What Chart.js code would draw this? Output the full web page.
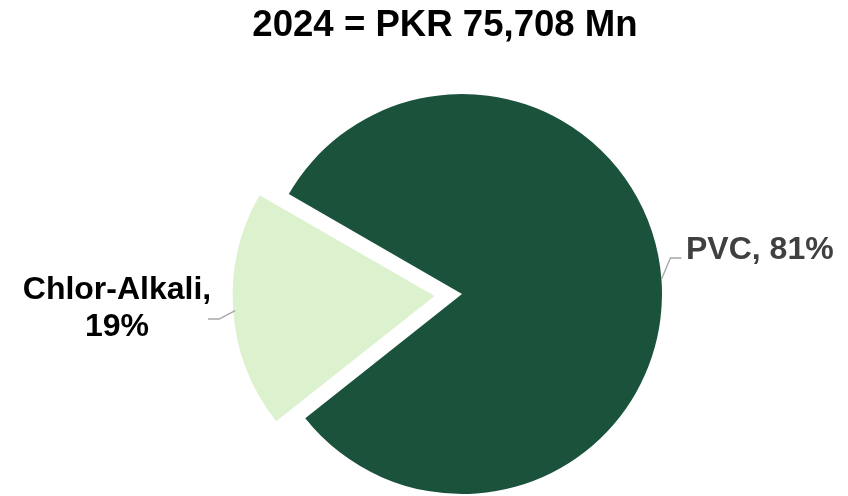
<!DOCTYPE html>
<html>
<head>
<meta charset="utf-8">
<script src="https://cdn.jsdelivr.net/npm/chart.js@4.4.1/dist/chart.umd.min.js"></script>
<style>
    html, body { margin: 0; padding: 0; background: #fff; }
    #wrap { position: relative; width: 848px; height: 496px; }
    #titulo {
        position: absolute; left: 0; top: 3px; width: 890px;
        text-align: center; margin: 0;
        font: bold 36.6px "Liberation Sans", Arial, sans-serif; color: #000;
    }
    #pieChart { position: absolute; left: 0; top: 0; }
</style>
</head>
<body>
<div id="wrap">
    <canvas id="pieChart" width="848" height="496"></canvas>
    <h1 id="titulo">2024 = PKR 75,708 Mn</h1>
</div>
<script>
const categories = ['PVC', 'Chlor-Alkali'];
const shares = [81, 19];
const sliceColors = ['#1b523c', '#dcf1cd'];
const explode = [0, 110];

// rótulos com linha de chamada, desenhados depois do gráfico
const labelPlugin = {
    id: 'sliceLabels',
    afterDraw(chart) {
        const ctx = chart.ctx;
        const arcs = chart.getDatasetMeta(0).data;
        ctx.save();
        ctx.font = 'bold 32px "Liberation Sans", Arial, sans-serif';
        ctx.strokeStyle = '#a6a6a6';
        ctx.lineWidth = 1.3;

        arcs.forEach((arc, i) => {
            const mid = (arc.startAngle + arc.endAngle) / 2;
            const shift = (explode[i] || 0) / 4;
            const ax = arc.x + Math.cos(mid) * (shift + arc.outerRadius);
            const ay = arc.y + Math.sin(mid) * (shift + arc.outerRadius);
            const text = categories[i] + ', ' + shares[i] + '%';

            ctx.beginPath();
            ctx.moveTo(ax, ay);
            if (Math.cos(mid) > 0) {
                ctx.lineTo(ax + 9, 258);
                ctx.lineTo(ax + 20, 258);
                ctx.stroke();
                ctx.fillStyle = '#404040';
                ctx.textAlign = 'left';
                ctx.textBaseline = 'alphabetic';
                ctx.fillText(text, 686, 259);
            } else {
                ctx.lineTo(ax - 16, 319);
                ctx.lineTo(ax - 27, 319);
                ctx.stroke();
                ctx.fillStyle = '#000';
                ctx.textAlign = 'center';
                ctx.textBaseline = 'alphabetic';
                ctx.fillText(categories[i] + ',', 117, 299);
                ctx.fillText(shares[i] + '%', 117, 336);
            }
        });
        ctx.restore();
    }
};

new Chart(document.getElementById('pieChart'), {
    type: 'pie',
    data: {
        labels: categories,
        datasets: [{
            data: shares,
            backgroundColor: sliceColors,
            borderWidth: 0,
            offset: explode,
            hoverOffset: 0,
            radius: 200
        }]
    },
    options: {
        responsive: false,
        animation: false,
        rotation: 300,
        layout: { padding: { top: 94, bottom: 2, left: 76, right: 0 } },
        plugins: {
            legend: { display: false },
            tooltip: { enabled: false }
        }
    },
    plugins: [labelPlugin]
});
</script>
</body>
</html>
